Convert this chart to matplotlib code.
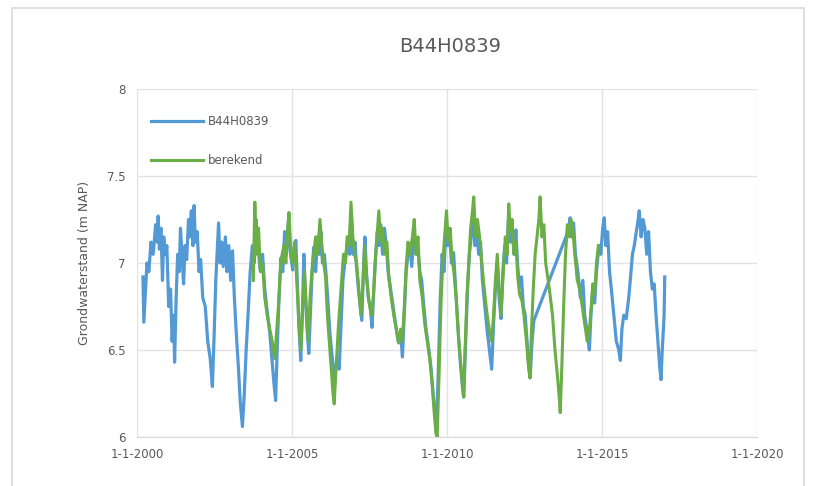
import datetime as dt
import matplotlib
matplotlib.use("Agg")
import matplotlib.pyplot as plt
from matplotlib.patches import Rectangle

# --- data (decimal year, m NAP) ---
meas_t = [2000.19, 2000.22, 2000.26, 2000.32, 2000.38, 2000.45, 2000.52, 2000.60, 2000.65, 2000.68,
          2000.72, 2000.77, 2000.82, 2000.86, 2000.91, 2000.96, 2001.02, 2001.08, 2001.13, 2001.18,
          2001.21, 2001.26, 2001.31, 2001.36, 2001.40, 2001.45, 2001.50, 2001.55, 2001.60, 2001.66,
          2001.70, 2001.75, 2001.80, 2001.84, 2001.88, 2001.94, 2002.00, 2002.05, 2002.12, 2002.20,
          2002.28, 2002.36, 2002.43, 2002.48, 2002.54, 2002.58, 2002.63, 2002.68, 2002.73, 2002.78,
          2002.85, 2002.90, 2002.96, 2003.02, 2003.08, 2003.14, 2003.20, 2003.27, 2003.33, 2003.40,
          2003.46, 2003.52, 2003.58, 2003.65, 2003.72, 2003.78, 2003.84, 2003.90, 2003.97, 2004.05,
          2004.12, 2004.20, 2004.28, 2004.35, 2004.42, 2004.47, 2004.52, 2004.58, 2004.64, 2004.70,
          2004.76, 2004.82, 2004.89, 2004.95, 2005.02, 2005.08, 2005.12, 2005.18, 2005.23, 2005.28,
          2005.33, 2005.38, 2005.43, 2005.49, 2005.54, 2005.60, 2005.66, 2005.70, 2005.76, 2005.82,
          2005.88, 2005.93, 2005.98, 2006.04, 2006.09, 2006.15, 2006.22, 2006.30, 2006.36, 2006.44,
          2006.52, 2006.58, 2006.64, 2006.70, 2006.75, 2006.80, 2006.86, 2006.92, 2006.97, 2007.03,
          2007.08, 2007.14, 2007.20, 2007.25, 2007.30, 2007.35, 2007.40, 2007.46, 2007.52, 2007.58,
          2007.64, 2007.70, 2007.75, 2007.80, 2007.86, 2007.92, 2007.98, 2008.04, 2008.10, 2008.18,
          2008.26, 2008.34, 2008.42, 2008.50, 2008.56, 2008.62, 2008.68, 2008.74, 2008.80, 2008.86,
          2008.93, 2009.00, 2009.05, 2009.12, 2009.18, 2009.25, 2009.32, 2009.40, 2009.48, 2009.55,
          2009.62, 2009.66, 2009.72, 2009.78, 2009.84, 2009.90, 2009.96, 2010.02, 2010.08, 2010.14,
          2010.21, 2010.28, 2010.36, 2010.44, 2010.50, 2010.54, 2010.60, 2010.66, 2010.72, 2010.78,
          2010.84, 2010.90, 2010.95, 2011.02, 2011.08, 2011.14, 2011.22, 2011.30, 2011.38, 2011.44,
          2011.50, 2011.56, 2011.62, 2011.68, 2011.74, 2011.80, 2011.86, 2011.92, 2011.98, 2012.04,
          2012.10, 2012.16, 2012.22, 2012.28, 2012.34, 2012.40, 2012.46, 2012.52, 2012.58, 2012.64,
          2012.68, 2012.74, 2012.80, 2013.92, 2013.97, 2014.02, 2014.08, 2014.14, 2014.22, 2014.30,
          2014.38, 2014.44, 2014.52, 2014.59, 2014.64, 2014.70, 2014.76, 2014.82, 2014.90, 2014.96,
          2015.02, 2015.07, 2015.12, 2015.18, 2015.24, 2015.30, 2015.38, 2015.46, 2015.54, 2015.59,
          2015.64, 2015.70, 2015.78, 2015.86, 2015.92, 2015.98, 2016.04, 2016.08, 2016.14, 2016.20,
          2016.26, 2016.32, 2016.38, 2016.44, 2016.50, 2016.56, 2016.62, 2016.68, 2016.74, 2016.80,
          2016.86, 2016.90, 2016.94, 2017.00, 2017.02]
meas_v = [6.92, 6.66, 6.80, 7.00, 6.95, 7.12, 7.05, 7.22, 7.12, 7.27,
          7.08, 7.20, 6.90, 7.15, 7.05, 7.10, 6.75, 6.85, 6.55, 6.70,
          6.43, 6.80, 7.05, 6.95, 7.20, 7.05, 6.88, 7.10, 7.02, 7.25,
          7.15, 7.30, 7.10, 7.33, 7.12, 7.18, 6.95, 7.02, 6.80, 6.75,
          6.55, 6.45, 6.29, 6.55, 6.90, 7.05, 7.23, 7.00, 7.12, 6.98,
          7.15, 6.95, 7.10, 6.90, 7.07, 6.80, 6.60, 6.40, 6.20, 6.06,
          6.25, 6.50, 6.70, 6.95, 7.10, 7.00, 7.25, 7.10, 6.96, 7.05,
          6.85, 6.72, 6.60, 6.45, 6.30, 6.21, 6.50, 6.80, 7.03, 6.95,
          7.18, 7.05, 7.26, 7.05, 6.96, 7.10, 7.13, 6.85, 6.60, 6.44,
          6.70, 7.05, 6.80, 6.60, 6.48, 6.75, 7.00, 7.09, 6.95, 7.15,
          7.05, 7.18, 7.00, 7.05, 6.95, 6.80, 6.60, 6.45, 6.30, 6.45,
          6.39, 6.65, 6.90, 7.00, 7.06, 7.15, 7.05, 7.26, 7.05, 7.12,
          6.98, 6.85, 6.75, 6.67, 6.95, 7.15, 6.95, 6.80, 6.75, 6.63,
          6.85, 7.05, 7.18, 7.10, 7.22, 7.05, 7.20, 7.10, 6.95, 6.85,
          6.75, 6.65, 6.55, 6.60, 6.46, 6.70, 6.95, 7.05, 7.11, 6.98,
          7.18, 7.05, 7.10, 6.95, 6.90, 6.75, 6.62, 6.52, 6.40, 6.25,
          6.12, 6.05, 6.40, 6.80, 7.05, 6.95, 7.20, 7.10, 7.18, 7.00,
          7.06, 6.85, 6.60, 6.40, 6.28, 6.23, 6.55, 6.85, 7.05, 7.15,
          7.28, 7.10, 7.20, 7.05, 7.12, 6.90, 6.75, 6.60, 6.48, 6.39,
          6.65, 6.85, 7.00, 6.80, 6.68, 6.95, 7.10, 7.00, 7.25, 7.12,
          7.20, 7.05, 7.19, 6.98, 6.86, 6.92, 6.75, 6.70, 6.55, 6.40,
          6.34, 6.55, 6.67, 7.19, 7.26, 7.15, 7.23, 7.05, 6.95, 6.80,
          6.90, 6.70, 6.60, 6.50, 6.70, 6.85, 6.77, 6.95, 7.10, 7.05,
          7.20, 7.26, 7.10, 7.18, 6.95, 6.85, 6.70, 6.55, 6.50, 6.44,
          6.62, 6.70, 6.68, 6.80, 6.92, 7.05, 7.10, 7.15, 7.22, 7.30,
          7.15, 7.25, 7.20, 7.05, 7.18, 6.95, 6.85, 6.88, 6.70, 6.55,
          6.40, 6.33, 6.50, 6.70, 6.92]

calc_t = [2003.75, 2003.80, 2003.85, 2003.92, 2003.98, 2004.05, 2004.12, 2004.20, 2004.28, 2004.36,
          2004.44, 2004.50, 2004.56, 2004.62, 2004.68, 2004.74, 2004.80, 2004.86, 2004.90, 2004.96,
          2005.02, 2005.08, 2005.15, 2005.22, 2005.28, 2005.34, 2005.40, 2005.46, 2005.52, 2005.58,
          2005.64, 2005.70, 2005.76, 2005.82, 2005.90, 2005.96, 2006.02, 2006.08, 2006.14, 2006.20,
          2006.26, 2006.32, 2006.36, 2006.42, 2006.50, 2006.58, 2006.66, 2006.72, 2006.78, 2006.84,
          2006.90, 2006.96, 2007.02, 2007.08, 2007.14, 2007.22, 2007.28, 2007.34, 2007.40, 2007.48,
          2007.56, 2007.62, 2007.68, 2007.74, 2007.80, 2007.86, 2007.92, 2007.98, 2008.06, 2008.12,
          2008.20, 2008.28, 2008.36, 2008.44, 2008.50, 2008.56, 2008.62, 2008.68, 2008.74, 2008.80,
          2008.88, 2008.94, 2009.00, 2009.06, 2009.12, 2009.20, 2009.28, 2009.36, 2009.44, 2009.52,
          2009.58, 2009.64, 2009.68, 2009.74, 2009.80, 2009.86, 2009.92, 2009.98, 2010.04, 2010.10,
          2010.16, 2010.22, 2010.30, 2010.38, 2010.46, 2010.53, 2010.58, 2010.64, 2010.70, 2010.76,
          2010.82, 2010.86, 2010.92, 2010.98, 2011.05, 2011.12, 2011.20, 2011.28, 2011.36, 2011.44,
          2011.50, 2011.56, 2011.62, 2011.68, 2011.74, 2011.80, 2011.88, 2011.94, 2011.99, 2012.04,
          2012.10, 2012.16, 2012.22, 2012.28, 2012.34, 2012.42, 2012.48, 2012.56, 2012.62, 2012.67,
          2012.72, 2012.78, 2012.84, 2012.90, 2012.96, 2013.00, 2013.06, 2013.12, 2013.18, 2013.26,
          2013.32, 2013.40, 2013.48, 2013.56, 2013.62, 2013.65, 2013.70, 2013.76, 2013.82, 2013.88,
          2013.94, 2014.00, 2014.06, 2014.12, 2014.20, 2014.28, 2014.36, 2014.44, 2014.52, 2014.58,
          2014.64, 2014.70, 2014.76, 2014.82, 2014.88]
calc_v = [6.90, 7.35, 7.05, 7.20, 6.95, 7.00, 6.80, 6.70, 6.62, 6.55,
          6.45, 6.60, 6.75, 6.95, 7.05, 7.10, 7.00, 7.20, 7.29, 7.05,
          7.00, 7.12, 6.90, 6.65, 6.50, 6.75, 6.95, 6.75, 6.55, 6.80,
          6.95, 7.05, 7.15, 7.05, 7.25, 7.10, 7.00, 6.92, 6.70, 6.55,
          6.40, 6.25, 6.19, 6.40, 6.65, 6.85, 7.05, 7.00, 7.15, 7.10,
          7.35, 7.15, 7.05, 7.00, 6.88, 6.70, 6.85, 7.10, 6.92, 6.78,
          6.70, 6.80, 7.00, 7.15, 7.30, 7.12, 7.20, 7.05, 7.12, 6.92,
          6.80, 6.70, 6.62, 6.54, 6.62, 6.55, 6.75, 6.98, 7.12, 7.05,
          7.15, 7.25, 7.05, 7.15, 6.90, 6.80, 6.65, 6.55, 6.45, 6.30,
          6.15, 6.02, 6.00, 6.35, 6.75, 7.00, 7.15, 7.30, 7.12, 7.20,
          7.02, 6.95, 6.78, 6.55, 6.38, 6.23, 6.50, 6.80, 7.00, 7.20,
          7.30, 7.38, 7.15, 7.25, 7.15, 7.00, 6.85, 6.72, 6.62, 6.55,
          6.70, 6.90, 7.05, 6.85, 6.70, 6.90, 7.15, 7.05, 7.34, 7.18,
          7.25, 7.05, 7.12, 6.92, 6.82, 6.78, 6.70, 6.55, 6.42, 6.34,
          6.60, 6.85, 7.05, 7.15, 7.25, 7.38, 7.15, 7.22, 7.00, 6.90,
          6.82, 6.70, 6.50, 6.35, 6.22, 6.14, 6.40, 6.75, 7.05, 7.22,
          7.15, 7.25, 7.18, 7.05, 6.90, 6.85, 6.75, 6.65, 6.55, 6.60,
          6.72, 6.88, 6.82, 7.00, 7.10]

tick_years = [2000, 2005, 2010, 2015, 2020]
y_ticks = [6, 6.5, 7, 7.5, 8]


def to_date(y):
    year = int(y)
    start = dt.datetime(year, 1, 1)
    days = (dt.datetime(year + 1, 1, 1) - start).days
    return start + dt.timedelta(days=(y - year) * days)


grey = "#595959"
fig = plt.figure(figsize=(8.18, 4.86), dpi=100)
fig.patches.append(Rectangle((0.015, -0.05), 0.968, 1.033, transform=fig.transFigure,
                             facecolor="none", edgecolor="#d9d9d9", lw=1.2))

ax = fig.add_axes([0.1675, 0.1008, 0.758, 0.7161])
ax.plot([to_date(t) for t in meas_t], meas_v, color="#5399d6", lw=2.3, label="B44H0839")
ax.plot([to_date(t) for t in calc_t], calc_v, color="#6aae45", lw=2.2, label="berekend")

ax.set_xlim(to_date(tick_years[0]), to_date(tick_years[-1]))
ax.set_ylim(y_ticks[0], y_ticks[-1])
ax.set_xticks([to_date(y) for y in tick_years])
ax.set_xticklabels(["1-1-%d" % y for y in tick_years])
ax.set_yticks(y_ticks)
ax.set_yticklabels(["6", "6.5", "7", "7.5", "8"])
ax.grid(True, color="#e3e3e3", lw=1)
ax.set_axisbelow(True)
for s in ax.spines.values():
    s.set_visible(False)
ax.spines["bottom"].set_visible(True)
ax.spines["bottom"].set_color("#d9d9d9")
ax.tick_params(length=0, colors=grey, labelsize=8.5, pad=8)

ax.set_ylabel("Grondwaterstand (m NAP)", color=grey, fontsize=9, labelpad=12)
fig.text(0.55, 0.905, "B44H0839", ha="center", va="center", color=grey, fontsize=14)

leg = ax.legend(loc="upper left", bbox_to_anchor=(0.005, 0.955), frameon=False, fontsize=8.5,
                handlelength=4.4, labelspacing=2.2, handletextpad=0.4)
for t in leg.get_texts():
    t.set_color(grey)

fig.savefig("out.png", dpi=100)
